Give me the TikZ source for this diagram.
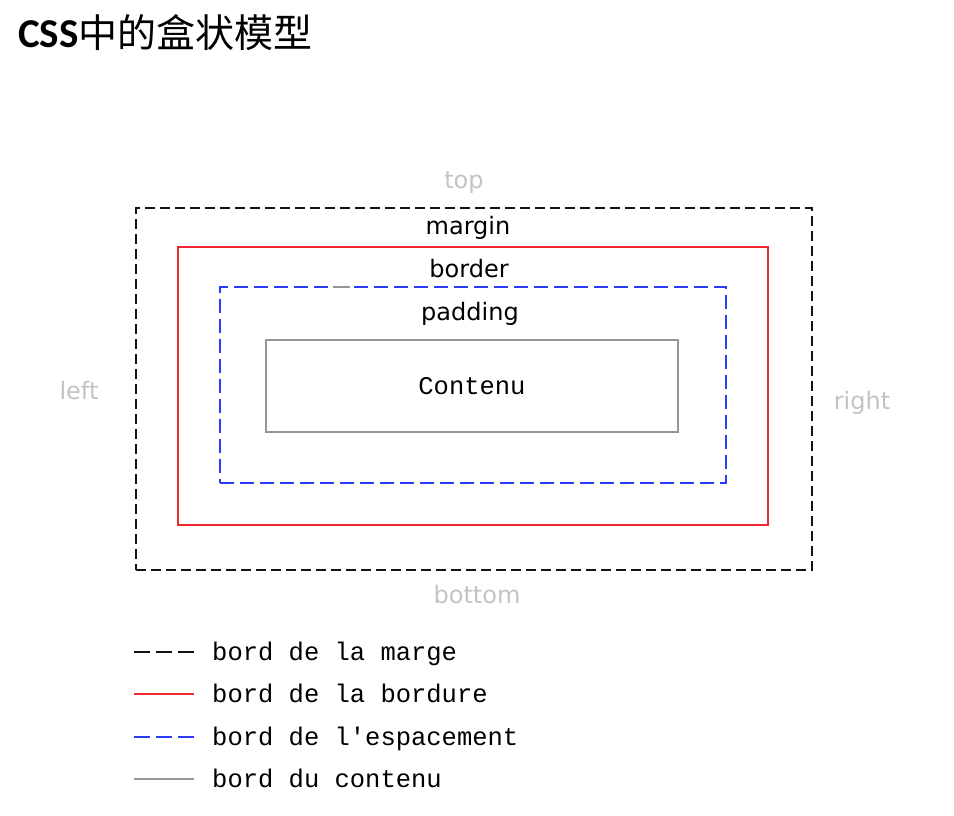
\documentclass[tikz,border=0pt]{standalone}
\usepackage{fontspec}
\usepackage{tikz}
\usetikzlibrary{positioning}
\newfontfamily\labelfont{DejaVu Sans}
\newfontfamily\legendfont{Liberation Mono}
\newfontfamily\cjkfont{Noto Sans CJK SC}
\newfontfamily\titlefont{Carlito}
\definecolor{margincol}{RGB}{20,20,20}
\definecolor{bordercol}{RGB}{240,40,50}
\definecolor{paddingcol}{RGB}{40,60,250}
\definecolor{contentcol}{RGB}{150,150,150}
\definecolor{sidecol}{RGB}{195,195,195}
\begin{document}
\begin{tikzpicture}[x=1pt, y=-1pt,
    marginline/.style = {draw=margincol, line width=2pt, dash pattern=on 10pt off 5pt},
    borderline/.style = {draw=bordercol, line width=2pt},
    paddingline/.style = {draw=paddingcol, line width=2pt, dash pattern=on 14pt off 6pt},
    contentline/.style = {draw=contentcol, line width=2pt},
    marginkey/.style = {marginline, dash pattern=on 16pt off 6pt},
    borderkey/.style = {borderline},
    paddingkey/.style = {paddingline, dash pattern=on 16pt off 6pt},
    contentkey/.style = {contentline},
    boxnode/.style = {inner sep=0pt, outer sep=0pt},
    boxlbl/.style = {anchor=base, font=\labelfont\fontsize{24}{24}\selectfont},
    sidelbl/.style = {anchor=base, text=sidecol, font=\labelfont\fontsize{24}{24}\selectfont},
    monotext/.style = {font=\legendfont\fontsize{25.5}{25.5}\selectfont}]
            \useasboundingbox (0,0) rectangle (954,816);
            % title
            \node [anchor=base west, inner sep=0pt] (title) at (18,48)
                {\titlefont\bfseries\fontsize{41}{41}\selectfont CSS\cjkfont\mdseries\fontsize{39}{39}\selectfont 中的盒状模型};
            % the four boxes
            \node [boxnode, marginline, minimum width=676pt, minimum height=362pt] (margin) at (474,389) {};
            \node [boxnode, borderline, minimum width=590pt, minimum height=278pt] (border) at (473,386) {};
            \node [boxnode, paddingline, minimum width=506pt, minimum height=196pt] (padding) at (473,385) {};
            \node [boxnode, contentline, minimum width=412pt, minimum height=92pt] (content) at (472,386) {};
            \coordinate (gapa) at (333,287);
            \coordinate (gapb) at (350,287);
            \draw [contentline] (gapa) -- (gapb);
            % labels
            \node [monotext] (contenu) at (content.center) {Contenu};
            \node [boxlbl] (marginlbl) at (468,234) {margin};
            \node [boxlbl] (borderlbl) at (469,277) {border};
            \node [boxlbl] (paddinglbl) at (470,320) {padding};
            \node [sidelbl] (toplbl) at (464,188) {top};
            \node [sidelbl] (leftlbl) at (79,399) {left};
            \node [sidelbl] (rightlbl) at (862,409) {right};
            \node [sidelbl] (bottomlbl) at (477,603) {bottom};
            % legend
            \foreach \sty/\yy/\txt [count=\i] in {marginkey/652/bord de la marge,
                                                borderkey/694/bord de la bordure,
                                                paddingkey/737/bord de l'espacement,
                                                contentkey/779/bord du contenu} {
                \coordinate (keya\i) at (134,\yy);
                \coordinate (keyb\i) at (194,\yy);
                \draw [\sty] (keya\i) -- (keyb\i);
                \node [monotext, anchor=base west, inner sep=0pt] (key\i) at (212,\yy+8) {\txt};
            }
        \end{tikzpicture}
\end{document}
